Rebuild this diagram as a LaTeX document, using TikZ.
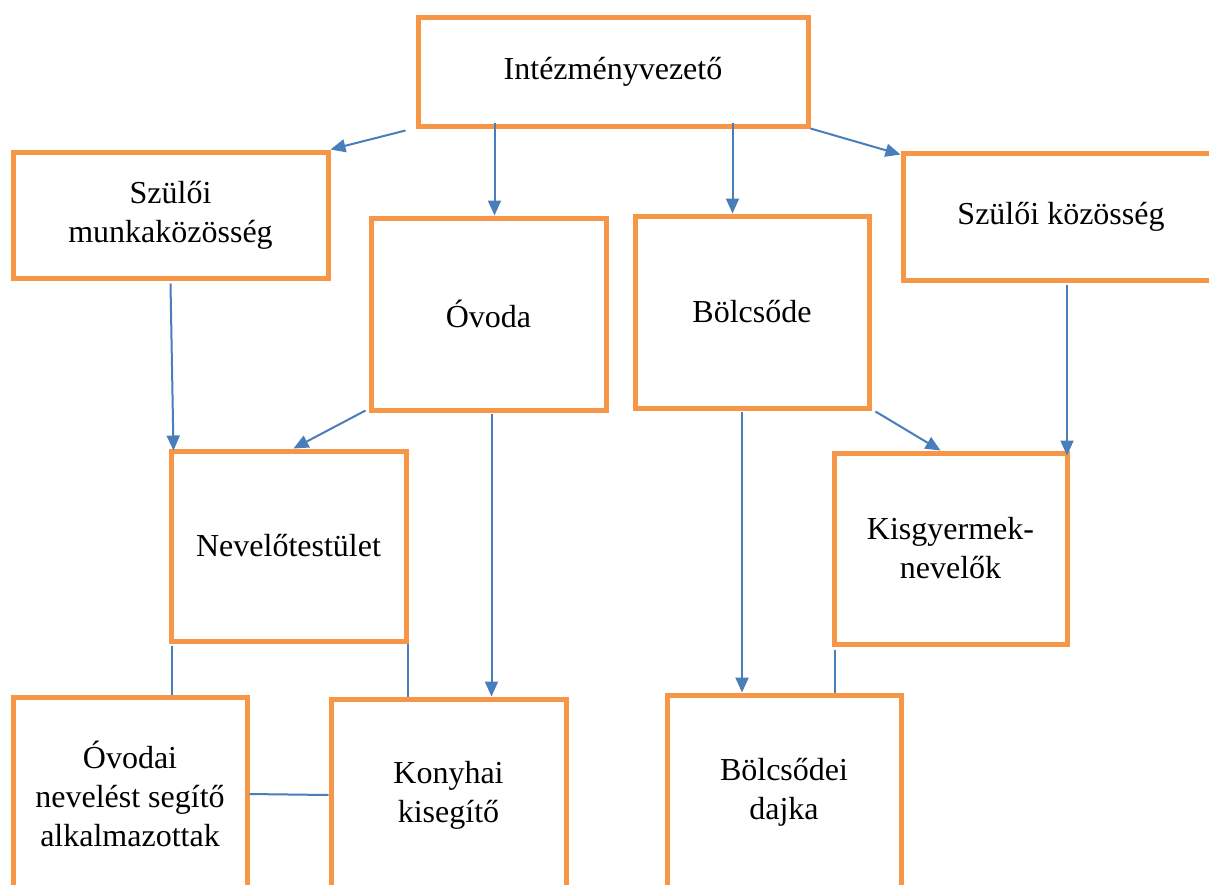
\documentclass[tikz,border=0pt]{standalone}
\usepackage{fontspec}
\setmainfont{Liberation Serif}
\usetikzlibrary{calc,arrows.meta}
\definecolor{boxorange}{HTML}{F79646}
\definecolor{linkblue}{HTML}{4A7EBB}
\tikzset{
  orgbox/.style={draw=boxorange, line width=5pt, fill=white, inner sep=0pt, align=center,
    font=\fontsize{32}{39}\selectfont, text=black},
  arr/.style={draw=linkblue, line width=2pt, -{Triangle[length=15pt,width=13pt]}},
  plain/.style={draw=linkblue, line width=2pt}
}
\begin{document}
\begin{tikzpicture}[x=1pt,y=-1pt]
\useasboundingbox (0,0) rectangle (1209,884);
\clip (0,0) rectangle (1209,884);
\fill[white] (0,0) rectangle (1209,884);
% boxes
\node[orgbox, minimum width=390pt, minimum height=109pt] (iv) at (613,71.5) {Intézményvezető};
\node[orgbox, minimum width=315pt, minimum height=126pt] (smk) at (170.5,215) {Szülői\\munkaközösség};
\node[orgbox, minimum width=316pt, minimum height=127pt] (sk) at (1061,216.5) {\raisebox{-4pt}{Szülői közösség}};
\node[orgbox, minimum width=235pt, minimum height=192pt] (ov) at (488.5,314) {Óvoda};
\node[orgbox, minimum width=234pt, minimum height=192pt] (bo) at (752,312) {\raisebox{-3pt}{Bölcsőde}};
\node[orgbox, minimum width=235pt, minimum height=190pt] (ne) at (288.5,546) {Nevelőtestület};
\node[orgbox, minimum width=233pt, minimum height=191pt] (ki) at (950.5,548.5) {Kisgyermek-\\nevelők};
\node[orgbox, minimum width=234pt, minimum height=194pt] (oda) at (130,794) {Óvodai\\nevelést segítő\\alkalmazottak};
\node[orgbox, minimum width=235pt, minimum height=192pt] (kon) at (448.5,795) {Konyhai\\kisegítő};
\node[orgbox, minimum width=234pt, minimum height=194pt] (bd) at (784,792) {Bölcsődei\\dajka};
% connectors
\draw[arr] ($(iv.south west)+(-10,2)$) -- (smk.north east);
\coordinate (s1) at ($(iv.south west)+(79,-6)$);
\draw[arr] (s1) -- (s1 |- ov.north);
\coordinate (s2) at ($(iv.south west)+(317,-6)$);
\draw[arr] (s2) -- (s2 |- bo.north);
\draw[arr] (iv.south east) -- ($(sk.north west)+(0,4)$);
\draw[arr] ($(smk.south)+(0,3)$) -- ($(ne.north west)+(5,2)$);
\draw[arr] ($(ov.south west)+(-3,-2)$) -- ($(ne.north)+(5,0)$);
\coordinate (s3) at ($(ov.south)+(3,1)$);
\draw[arr] (s3) -- (s3 |- kon.north);
\coordinate (s4) at ($(bo.south)+(-10,1)$);
\draw[arr] (s4) -- (s4 |- bd.north);
\draw[arr] ($(bo.south east)+(4,1)$) -- ($(ki.north)+(-10,0)$);
\coordinate (s5) at ($(sk.south)+(6,2)$);
\draw[arr] (s5) -- ($(s5 |- ki.north)+(0,5)$);
\coordinate (s6) at ($(ne.south west)+(3,2)$);
\draw[plain] (s6) -- (s6 |- oda.north);
\coordinate (s7) at ($(ne.south east)+(-1,0)$);
\draw[plain] (s7) -- (s7 |- kon.north);
\draw[plain] (oda.east) -- (kon.west);
\coordinate (s8) at ($(ki.south west)+(3,3)$);
\draw[plain] (s8) -- (s8 |- bd.north);
\end{tikzpicture}
\end{document}
